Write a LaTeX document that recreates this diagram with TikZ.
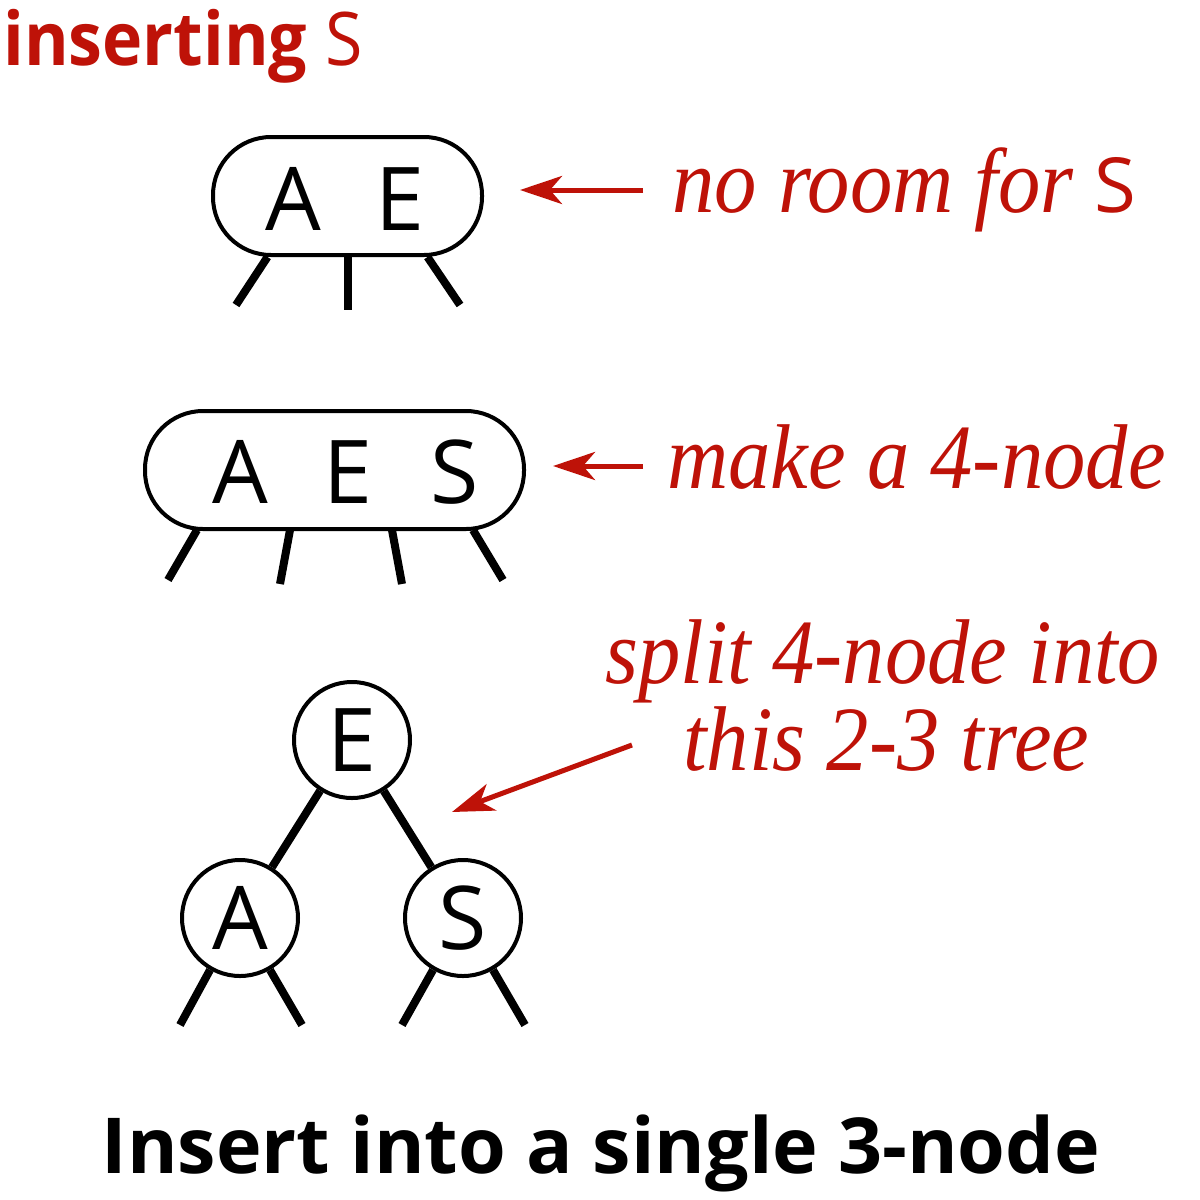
\documentclass[tikz,border=0pt]{standalone}
\usepackage{fontspec}
\usetikzlibrary{arrows.meta,calc}
\newfontfamily\mysans{Open Sans}
\newfontfamily\mysansn{Open Sans}[FakeStretch=0.92]
\newfontfamily\myserif{Liberation Serif}[FakeStretch=0.92]
\definecolor{bookred}{RGB}{190,18,8}
\tikzset{
  stadium/.style={draw,line width=2pt,rectangle,rounded corners=29pt,minimum height=59pt,inner sep=0pt},
  key/.style={font=\mysans\fontsize{44}{44}\selectfont,inner sep=0pt,anchor=base},
  circ/.style={draw,line width=2pt,circle,minimum size=58pt,inner sep=0pt,font=\mysans\fontsize{44}{44}\selectfont},
  leg/.style={line width=4pt},
  redarrow/.style={draw=bookred,line width=2.5pt,-{Stealth[length=21pt,width=14pt,inset=6pt]}},
  note/.style={text=bookred,inner sep=0pt,anchor=base west,font=\myserif\itshape\fontsize{46}{46}\selectfont},
}
\begin{document}
\begin{tikzpicture}[x=0.5pt,y=-0.5pt]
\useasboundingbox (0,0) rectangle (1200,1200);
% title
\node[text=bookred,inner sep=0pt,anchor=base west,font=\mysansn\fontsize{37}{37}\selectfont] (ins) at (3,65) {\textbf{inserting} S};
% top 3-node
\node[stadium,minimum width=134.5pt] (n3) at (347.5,196) {};
\node[key] (k1a) at (293,230) {A};
\node[key] (k1e) at (400,230) {E};
\coordinate (l1a) at (236,305); \coordinate (l1b) at (348,310); \coordinate (l1c) at (460,305);
\draw[leg] ($(n3.south)+(-80,0)$) -- (l1a);
\draw[leg] ($(n3.south)+(0.5,0)$) -- (l1b);
\draw[leg] ($(n3.south)+(80,0)$) -- (l1c);
\node[note] (t1) at (672,212) {no room for {\upshape\mysans\fontsize{38}{38}\selectfont S}};
\coordinate (a1s) at (643,190);
\coordinate (a1e) at (520,190);
\draw[redarrow] (a1s) -- (a1e);
% 4-node
\node[stadium,minimum width=189.5pt] (n4) at (334.5,470) {};
\node[key] (k2a) at (240,503) {A};
\node[key] (k2e) at (348,503) {E};
\node[key] (k2s) at (455,503) {S};
\draw[leg] (197,530) -- (168,580);
\draw[leg] (290,530) -- (280,584);
\draw[leg] (392,530) -- (402,584);
\draw[leg] (473,530) -- (503,580);
\node[note] (t2) at (667,488) {make a 4-node};
\coordinate (a2s) at (643,466);
\coordinate (a2e) at (553,466);
\draw[redarrow] (a2s) -- (a2e);
% tree
\node[circ] (e) at (352,740) {E};
\node[circ] (a) at (240,918) {A};
\node[circ] (s) at (463,918) {S};
\draw[leg] (e) -- (a);
\draw[leg] (e) -- (s);
\draw[leg] (a.-120) -- (180,1025);
\draw[leg] (a.-60) -- (302,1025);
\draw[leg] (s.-120) -- (402,1025);
\draw[leg] (s.-60) -- (525,1025);
\node[note] (t3) at (605,683) {split 4-node into};
\node[note] (t4) at (683,770) {this 2-3 tree};
\coordinate (a3s) at (632,745);
\coordinate (a3e) at (452,812);
\draw[redarrow] (a3s) -- (a3e);
% caption
\node[inner sep=0pt,anchor=base,font=\mysans\bfseries\fontsize{38.6}{38.6}\selectfont] (cap) at (601,1173) {Insert into a single 3-node};
\end{tikzpicture}
\end{document}
